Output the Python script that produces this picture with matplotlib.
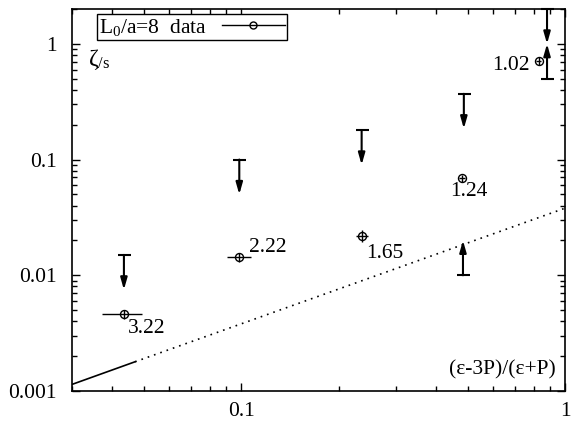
import matplotlib
matplotlib.use("Agg")
import matplotlib.pyplot as plt
import numpy as np

plt.rcParams['font.family'] = ['Liberation Serif', 'DejaVu Serif']
plt.rcParams['mathtext.fontset'] = 'custom'
plt.rcParams['mathtext.rm'] = 'Liberation Serif'
plt.rcParams['mathtext.it'] = 'Liberation Serif:italic'
plt.rcParams['mathtext.default'] = 'regular'

# data points
pts_x = [0.0434, 0.0986, 0.2354, 0.480, 0.831]
pts_y = [0.00461, 0.01429, 0.0217, 0.0686, 0.713]
pts_xlo = [0.0371, 0.0905, 0.2255, 0.470, 0.816]
pts_xhi = [0.0494, 0.1074, 0.2457, 0.490, 0.846]
pts_ylo = [0.00420, 0.01300, 0.0193, 0.0646, 0.660]
pts_yhi = [0.00505, 0.01570, 0.0245, 0.0729, 0.770]
pts_labels = ['3.22', '2.22', '1.65', '1.24', '1.02']
# label offsets in pixels (dx, dy) and alignment
lab_off = [(4, -14), (10, 10), (5, -17), (7, -13), (-9, -5)]
lab_ha = ['left', 'left', 'left', 'center', 'right']

# upper limits (arrows pointing down)
ulim_x = [0.0434, 0.0986, 0.2354, 0.487, 0.88]
ulim_y = [0.015, 0.1, 0.18, 0.37, 2.0]
# lower limits (arrows pointing up)
llim_x = [0.88, 0.484]
llim_y = [0.5, 0.01]
arrow_factor = 2.0

# reference line
line_x_solid = [0.03, 0.047]
line_y_solid = [0.00114, 0.00179]
line_x_dot = [0.047, 1.0]
line_y_dot = [0.00179, 0.038]

fig = plt.figure(figsize=(5.74, 4.22), dpi=100)
ax = fig.add_axes([72/574, 1-391/422, (565-72)/574, (391-9)/422])
ax.set_xscale('log')
ax.set_yscale('log')
ax.set_xlim(0.03, 1)
ax.set_ylim(0.001, 2)

ax.plot(line_x_solid, line_y_solid, color='k', lw=1.2)
ax.plot(line_x_dot, line_y_dot, color='k', lw=1.2, ls=(0, (1, 3)))

px = 0.72
xe = [np.array(pts_x) - np.array(pts_xlo), np.array(pts_xhi) - np.array(pts_x)]
ye = [np.array(pts_y) - np.array(pts_ylo), np.array(pts_yhi) - np.array(pts_y)]
ax.errorbar(pts_x, pts_y, xerr=xe, yerr=ye, fmt='o', mfc='none', mec='k',
            ms=8*px, mew=1.0, ecolor='k', elinewidth=1.0, capsize=0, zorder=3)
for x, y, t, off, ha in zip(pts_x, pts_y, pts_labels, lab_off, lab_ha):
    ax.annotate(t, (x, y), xytext=(off[0]*px, off[1]*px), textcoords='offset points',
                ha=ha, va='center', fontsize=15.5)

aprops = dict(arrowstyle='-|>,head_length=0.7,head_width=0.2', color='k', lw=1.5,
              shrinkA=0, shrinkB=0)
for x, y in zip(ulim_x, ulim_y):
    ax.annotate('', xy=(x, y/arrow_factor), xytext=(x, y), arrowprops=aprops)
for x, y in zip(llim_x, llim_y):
    ax.annotate('', xy=(x, y*arrow_factor), xytext=(x, y), arrowprops=aprops)
ax.plot(ulim_x + llim_x, ulim_y + llim_y, ls='none', marker='_', ms=13*px,
        mew=1.5, color='k', clip_on=False)

# legend handle
ax.plot([], [], color='k', lw=1.0, marker='o', mfc='none', mec='k', ms=7*px,
        label=r'L$_0$/a=8  data')
leg = ax.legend(loc='upper left', bbox_to_anchor=(0.05, 0.987), borderaxespad=0,
                fancybox=False, framealpha=1, edgecolor='k', fontsize=15.5,
                handlelength=2.9, borderpad=0.12, handletextpad=0.7,
                markerfirst=False)
leg.get_frame().set_linewidth(1.0)

ax.text((88-72)/493, (391-60)/382, r'$\zeta_{/s}$', transform=ax.transAxes,
        fontsize=17, ha='left', va='center')
ax.text((556-72)/493, (391-370)/382, '(ε-3P)/(ε+P)', transform=ax.transAxes,
        fontsize=15.5, ha='right', va='center')

ax.set_xticks([0.1, 1])
ax.set_xticklabels(['0.1', '1'])
ax.set_yticks([0.001, 0.01, 0.1, 1])
ax.set_yticklabels(['0.001', '0.01', '0.1', '1'])
ax.tick_params(which='major', direction='in', length=6, width=1, top=True, right=True,
               labelsize=15.5)
ax.tick_params(which='minor', direction='in', length=3.5, width=1, top=True, right=True)
ax.tick_params(axis='x', pad=8)
ax.tick_params(axis='y', pad=11)
for s in ax.spines.values():
    s.set_linewidth(1.2)

fig.savefig('out.png', dpi=100)
